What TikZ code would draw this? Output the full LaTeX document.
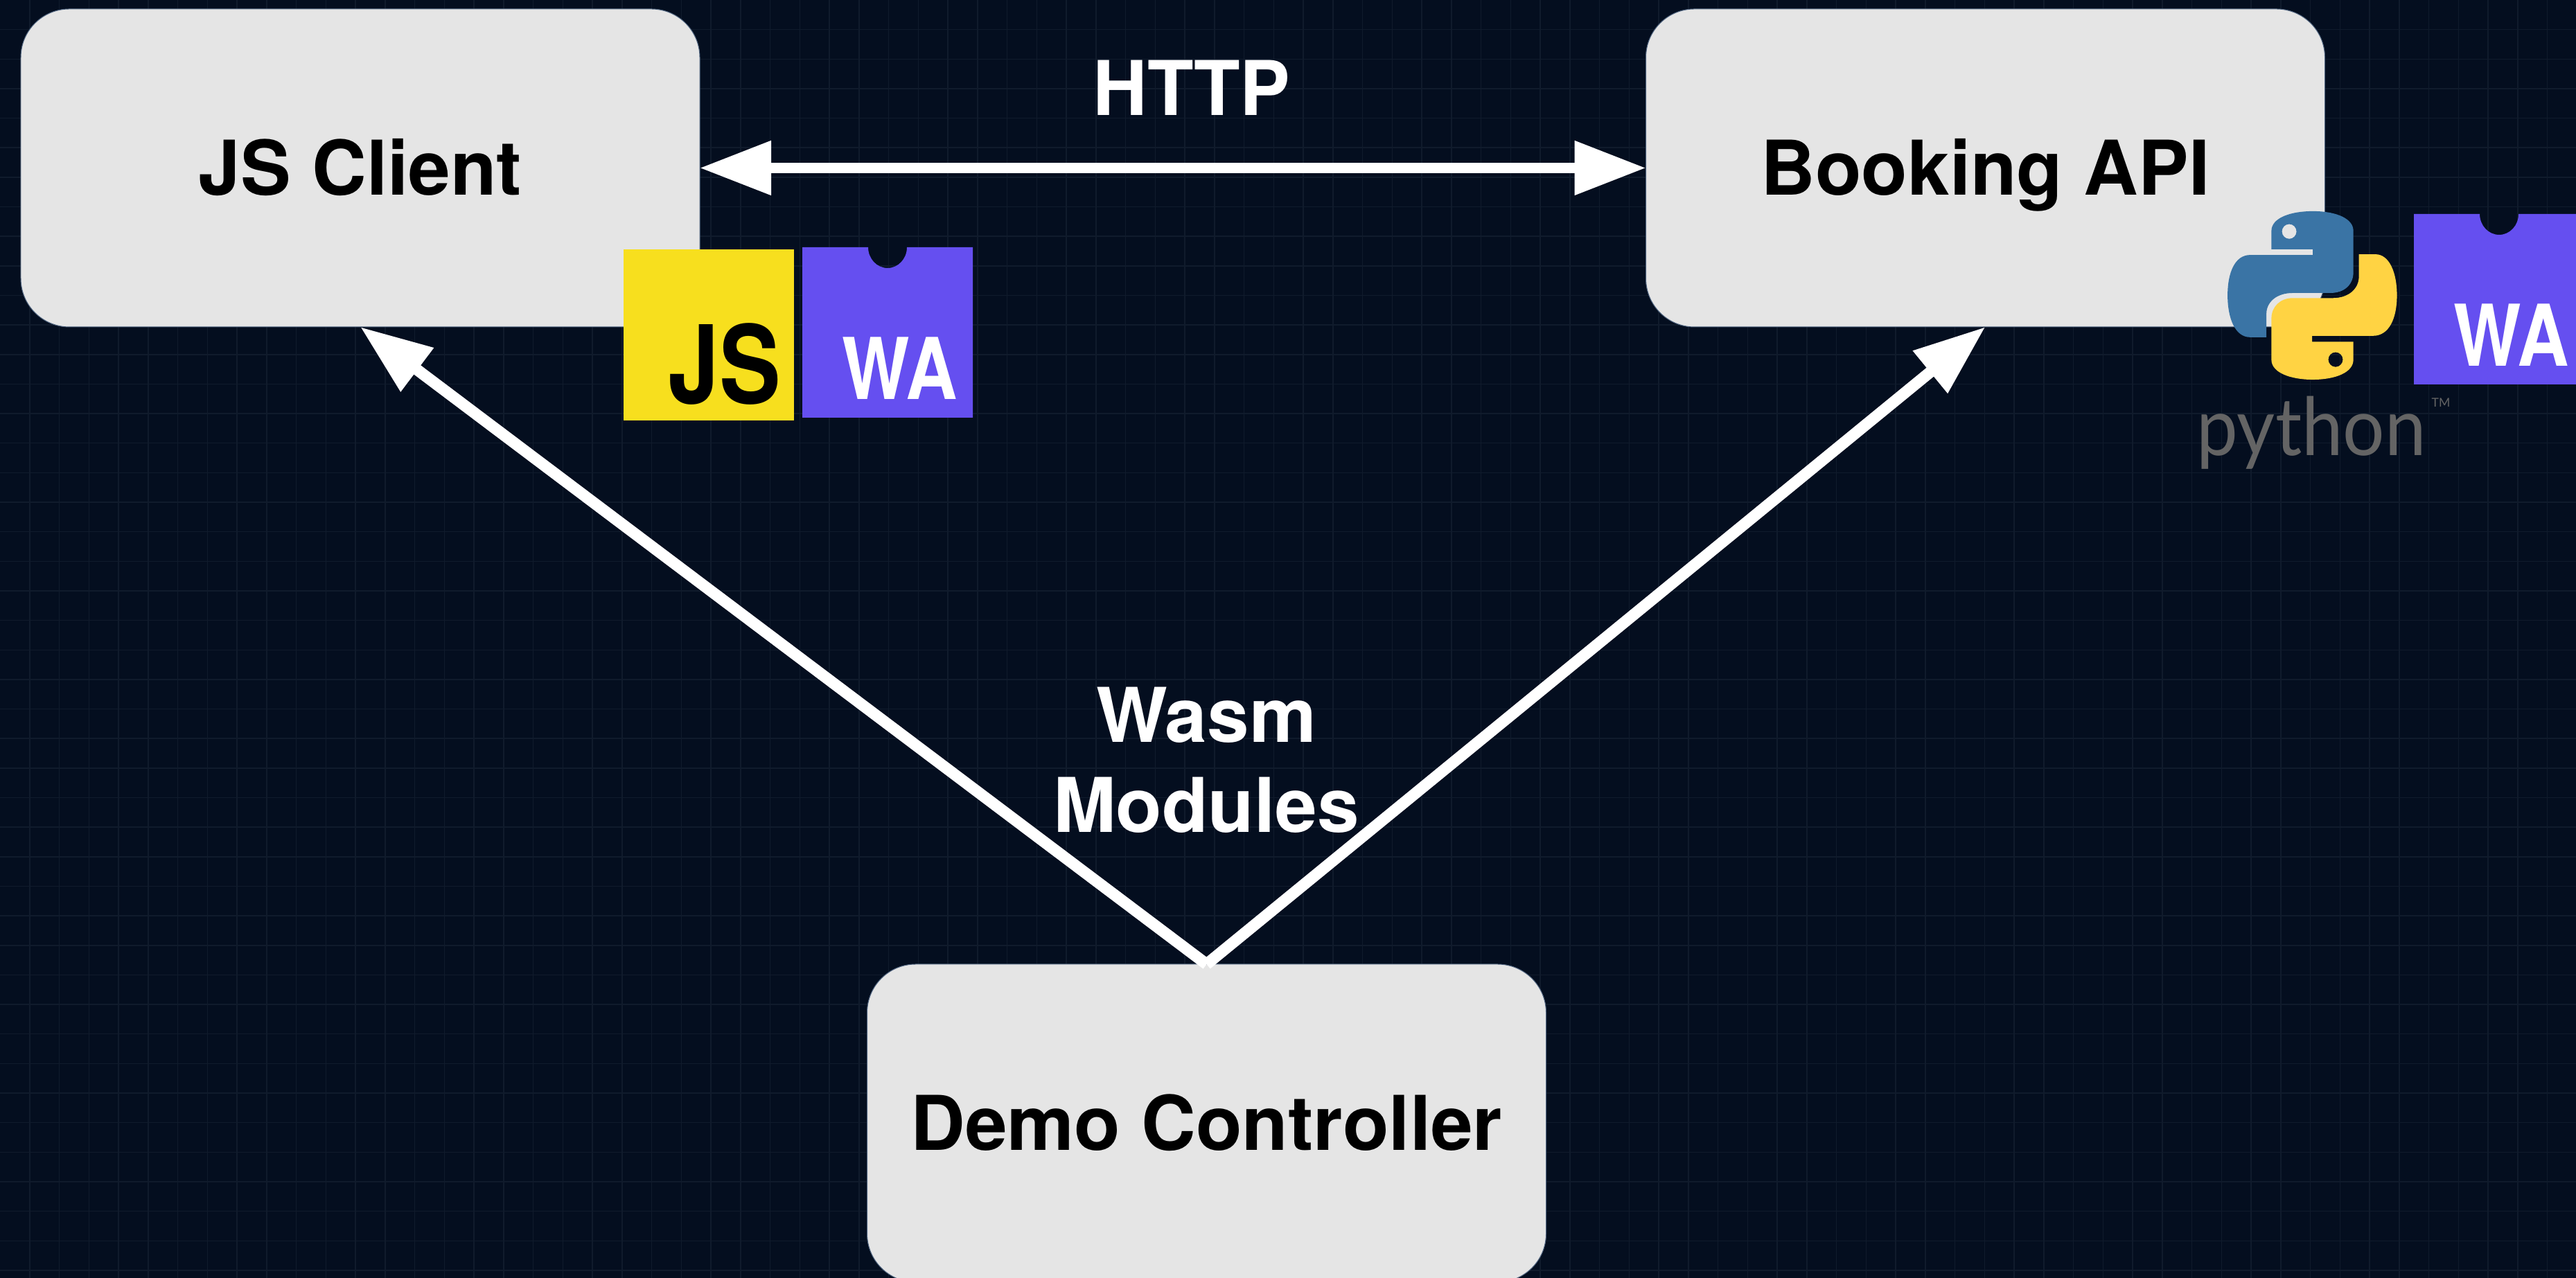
\documentclass[tikz,border=0pt]{standalone}
\usepackage{fontspec}
\usetikzlibrary{arrows.meta}
\setmainfont{TeX Gyre Heros}
\newfontfamily\pylabelfont{Lato}
\definecolor{bgnavy}{HTML}{040E1F}
\definecolor{gridnavy}{HTML}{101B2C}
\definecolor{boxgrey}{HTML}{E5E5E5}
\definecolor{boxedge}{HTML}{4F6480}
\definecolor{wapurple}{HTML}{654FF0}
\definecolor{jsyellow}{HTML}{F7DF1E}
\definecolor{pyblue}{HTML}{3A74A5}
\definecolor{pyyellow}{HTML}{FFD343}
\definecolor{pygrey}{HTML}{646464}
\tikzset{
  service/.style={draw=boxedge, line width=0.01cm, fill=boxgrey, rounded corners=0.7cm,
    minimum width=9.8cm, minimum height=4.59cm, inner sep=0pt, outer sep=0pt,
    font=\fontsize{31}{36}\selectfont\bfseries, text=black, text height=0.78cm, text depth=0cm},
  caption/.style={text=white, align=center, inner sep=0pt,
    font=\fontsize{31}{37}\selectfont\bfseries},
  httplink/.style={color=white, line width=0.15cm, {Triangle[length=1.03cm,width=0.75cm]}-{Triangle[length=1.03cm,width=0.75cm]}},
  wasmlink/.style={color=white, line width=0.165cm, -{Triangle[length=1.03cm,width=0.75cm]}},
  gridline/.style={draw=gridnavy, line width=0.015cm},
  logotext/.style={inner sep=0pt, anchor=base, transform shape}
}
\newcommand{\walogo}[3]{
  \fill[wapurple] (#2,#3) -- ++(0.95,0) arc (180:360:0.28 and 0.3) -- ++(0.95,0)
    -- ++(0,-2.46) -- ++(-2.46,0) -- cycle;
  \node[logotext, text=white, xscale=0.84, font=\fontsize{35}{35}\selectfont\bfseries] (#1) at (#2+1.405,#3-2.2) {WA};
}

\begin{document}
\begin{tikzpicture}
  \useasboundingbox (0,0) rectangle (37.18,18.45);
  \fill[bgnavy] (0,0) rectangle (37.18,18.45);
  \foreach \i in {1,...,87} \draw[gridline] (\i*0.4275,0) -- (\i*0.4275,18.45);
  \foreach \i in {1,...,43} \draw[gridline] (0,18.45-\i*0.4265) -- (37.18,18.45-\i*0.4265);

  \node[service] (JC) at (5.2, 16.025) {JS Client};
  \node[service] (BA) at (28.655, 16.025) {Booking API};
  \node[service] (DC) at (17.415, 2.235) {Demo Controller};

  \node[caption] (HT) at (17.2, 17.18) {HTTP};
  \node[caption] (WM) at (17.41, 7.48) {Wasm\\Modules};

  \path (JC) edge[httplink] (BA);
  \path (DC.north) edge[wasmlink] (JC.south);
  \path (DC.north) edge[wasmlink] (BA.south);

  \node[fill=jsyellow, minimum width=2.46cm, minimum height=2.47cm, inner sep=0pt] (JL) at (10.23, 13.615) {};
  \node[logotext, xscale=0.85, text=black, font=\fontsize{44.5}{45}\selectfont\bfseries] (JT) at (10.46, 12.62) {JS};
  \walogo{WA}{11.58}{14.88}

  \begin{scope}[shift={(31.5,15.75)}, x=0.00362cm, y=-0.00333cm]
    \fill[pyblue, even odd rule] (520,105) .. controls (620,105) and (682,140) .. (682,190)
      -- (682,370) .. controls (682,425) and (645,460) .. (590,460)
      -- (440,460) .. controls (375,460) and (335,500) .. (335,550)
      -- (335,652) -- (270,652) .. controls (210,652) and (180,570) .. (180,470)
      .. controls (180,370) and (210,295) .. (270,295)
      -- (520,295) -- (520,270) -- (355,270) -- (355,190)
      .. controls (355,135) and (430,105) .. (520,105) -- cycle
      (426,193) ellipse (29 and 32);
    \fill[pyyellow, even odd rule] (704,292) -- (770,292) .. controls (825,292) and (856,370) .. (856,470)
      .. controls (856,570) and (825,646) .. (760,646)
      -- (517,646) -- (517,672) -- (682,672) -- (682,750)
      .. controls (682,805) and (610,836) .. (520,836)
      .. controls (430,836) and (355,805) .. (355,750)
      -- (355,570) .. controls (355,520) and (390,482) .. (440,482)
      -- (600,482) .. controls (665,482) and (704,440) .. (704,390) -- cycle
      (611,749) ellipse (29 and 32);
  \end{scope}
  \node[logotext, xscale=0.92, text=pygrey, font=\fontsize{33}{33}\pylabelfont] (PY) at (33.36, 11.87) {python};
  \node[inner sep=0pt, text=pygrey, font=\fontsize{5}{5}\pylabelfont] (TM) at (35.23, 12.64) {TM};
  \walogo{WB}{34.84}{15.36}
\end{tikzpicture}
\end{document}
